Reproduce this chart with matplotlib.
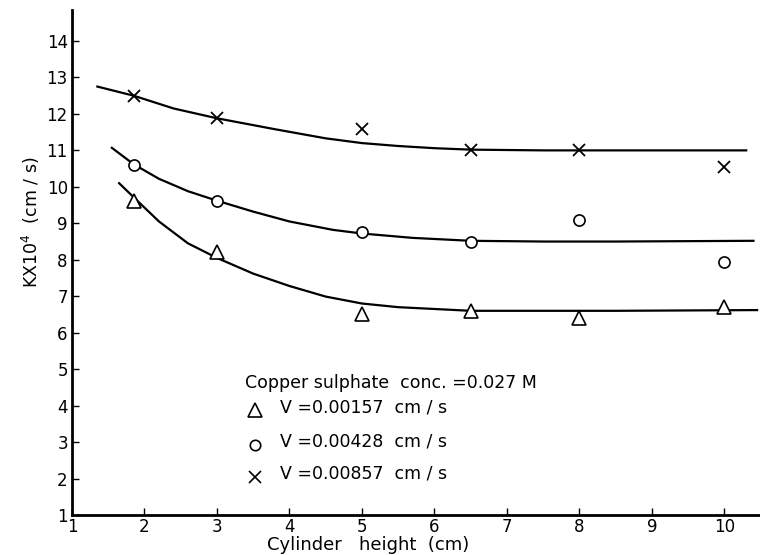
import matplotlib
matplotlib.use("Agg")
import matplotlib.pyplot as plt
from matplotlib.lines import Line2D

plt.rcParams['font.family'] = ['DejaVu Sans']

# measured points
x_pts = [1.85, 3.0, 5.0, 6.5, 8.0, 10.0]
tri_vals = [9.6, 8.2, 6.5, 6.6, 6.4, 6.7]
circ_vals = [10.6, 9.6, 8.75, 8.5, 9.1, 7.95]
cross_vals = [12.5, 11.9, 11.6, 11.0, 11.0, 10.55]

# fitted curves
cross_curve_x = [1.35, 1.85, 2.4, 3.0, 3.8, 4.5, 5.0, 5.5, 6.0, 6.5, 7.5, 8.5, 10.3]
cross_curve_y = [12.75, 12.5, 12.15, 11.88, 11.58, 11.33, 11.2, 11.12, 11.06, 11.02, 11.0, 11.0, 11.0]
circ_curve_x = [1.55, 1.85, 2.2, 2.6, 3.0, 3.5, 4.0, 4.6, 5.0, 5.7, 6.5, 7.5, 8.5, 10.4]
circ_curve_y = [11.07, 10.62, 10.22, 9.88, 9.62, 9.32, 9.05, 8.82, 8.72, 8.6, 8.52, 8.5, 8.5, 8.52]
tri_curve_x = [1.65, 1.9, 2.2, 2.6, 3.0, 3.5, 4.0, 4.5, 5.0, 5.5, 6.5, 7.5, 8.5, 10.45]
tri_curve_y = [10.1, 9.62, 9.05, 8.45, 8.05, 7.62, 7.28, 6.99, 6.8, 6.7, 6.6, 6.6, 6.6, 6.62]

x_ticks = [1, 2, 3, 4, 5, 6, 7, 8, 9, 10]
y_ticks = [1, 2, 3, 4, 5, 6, 7, 8, 9, 10, 11, 12, 13, 14]

legend_title = "Copper sulphate  conc. =0.027 M"
legend_labels = ["V =0.00157  cm / s", "V =0.00428  cm / s", "V =0.00857  cm / s"]

W, H = 760, 555
fig = plt.figure(figsize=(7.6, 5.55), dpi=100)
ax = fig.add_axes([72 / W, 1 - 515 / H, (760 - 72) / W, (515 - 10) / H])

lw = 1.6
ax.plot(cross_curve_x, cross_curve_y, color='black', lw=lw)
ax.plot(circ_curve_x, circ_curve_y, color='black', lw=lw)
ax.plot(tri_curve_x, tri_curve_y, color='black', lw=lw)

ax.plot(x_pts, cross_vals, ls='none', marker='x', ms=8, mew=1.3, color='black')
ax.plot(x_pts, circ_vals, ls='none', marker='o', ms=8, mew=1.2, mfc='white', mec='black')
ax.plot(x_pts, tri_vals, ls='none', marker='^', ms=9.5, mew=1.2, mfc='white', mec='black')

ax.set_xlim(1, 10.49)
ax.set_ylim(1, 14.85)
ax.set_xticks(x_ticks)
ax.set_yticks(y_ticks)
ax.set_xticklabels([str(v) for v in x_ticks])
ax.set_yticklabels([str(v) for v in y_ticks])
ax.tick_params(direction='in', length=5, width=1, labelsize=12, pad=3)
ax.tick_params(axis='x', pad=2)
for s in ['top', 'right']:
    ax.spines[s].set_visible(False)
for s in ['left', 'bottom']:
    ax.spines[s].set_linewidth(2)

fig.text(31 / W, 1 - 222 / H, r'KX10$^{4}$  (cm / s)', rotation=90,
         ha='center', va='center', fontsize=12.5)
fig.text(368 / W, 1 - 545 / H, 'Cylinder   height  (cm)', ha='center', va='center', fontsize=13)

# legend block
fs = 12.5
fig.text(245 / W, 1 - 383 / H, legend_title, ha='left', va='center', fontsize=fs)
marker_specs = [('^', 9.5), ('o', 7.5), ('x', 8)]
rows_y = [410, 445, 477]
for (m, ms), ry, lab in zip(marker_specs, rows_y, legend_labels):
    fig.add_artist(Line2D([255 / W], [1 - ry / H], marker=m, ms=ms, mew=1.2,
                          mfc='white', mec='black', color='black', ls='none',
                          transform=fig.transFigure))
    fig.text(280 / W, 1 - (ry - 3) / H, lab, ha='left', va='center', fontsize=fs)

fig.savefig('out.png', dpi=100)
